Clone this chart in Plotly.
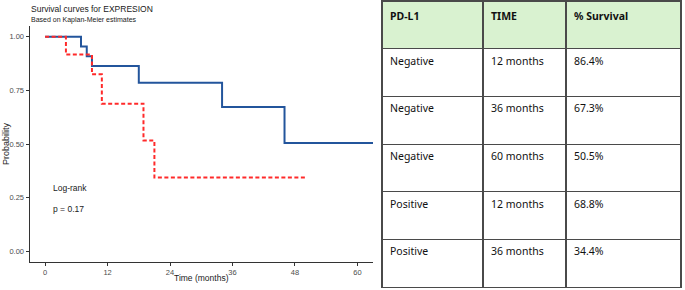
import plotly.graph_objects as go

# Kaplan-Meier curves
neg_time = [0, 6.9, 8.0, 9.0, 18.0, 34.0, 46.0, 64.0]
neg_surv = [1.0, 0.955, 0.909, 0.864, 0.786, 0.673, 0.505, 0.505]
pos_time = [0, 4.0, 9.0, 10.9, 18.9, 21.0, 50.0]
pos_surv = [1.0, 0.917, 0.825, 0.688, 0.516, 0.344, 0.344]

x_ticks = [0, 12, 24, 36, 48, 60]
y_ticks = [0.0, 0.25, 0.5, 0.75, 1.0]
y_tick_labels = ["0.00", "0.25", "0.50", "0.75", "1.00"]

# Table
tbl_header = ["PD-L1", "TIME", "% Survival"]
tbl_pdl1 = ["Negative", "Negative", "Negative", "Positive", "Positive"]
tbl_time = ["12 months", "36 months", "60 months", "12 months", "36 months"]
tbl_surv = ["86.4%", "67.3%", "50.5%", "68.8%", "34.4%"]

W, H = 685, 290
fig = go.Figure()

fig.add_trace(go.Scatter(x=neg_time, y=neg_surv, mode="lines", line_shape="hv",
                         line=dict(color="#23559c", width=2), showlegend=False))
fig.add_trace(go.Scatter(x=pos_time, y=pos_surv, mode="lines", line_shape="hv",
                         line=dict(color="#ff2a2a", width=2, dash="4px,2.5px"), showlegend=False))

fig.add_trace(go.Table(
    domain=dict(x=[382/W, 681/W], y=[1 - 288/H, 1 - 1/H]),
    columnwidth=[101, 83, 115],
    header=dict(values=["<b>%s</b>" % h for h in tbl_header], height=47.7,
                fill_color="#d9f2d0", line=dict(color="#4a4a4a", width=1.2),
                align="left", font=dict(family="Noto Sans", size=10.5, color="#111111")),
    cells=dict(values=[tbl_pdl1, tbl_time, tbl_surv], height=47.7,
               fill_color="white", line=dict(color="#4a4a4a", width=1.2),
               align="left", font=dict(family="Noto Sans", size=10.5, color="#111111")),
))

axis_font = dict(family="Liberation Sans", size=7.5, color="#4d4d4d")
fig.update_layout(
    width=W, height=H, margin=dict(l=0, r=0, t=0, b=0, autoexpand=False),
    paper_bgcolor="white", plot_bgcolor="white",
    font=dict(family="Liberation Sans"),
    xaxis=dict(domain=[29.5/W, 373/W], range=[-3, 63], tickvals=x_ticks,
               showgrid=False, zeroline=False, showline=True, linecolor="#333333",
               linewidth=1, ticks="outside", ticklen=3, tickcolor="#333333",
               tickfont=axis_font, automargin=False),
    yaxis=dict(domain=[1 - 262/H, 1 - 26/H], range=[-0.05, 1.05], tickvals=y_ticks,
               ticktext=y_tick_labels, showgrid=False, zeroline=False, showline=True,
               linecolor="#333333", linewidth=1, ticks="outside", ticklen=3,
               tickcolor="#333333", tickfont=axis_font, automargin=False),
)

def ann(text, x, y, size, color="#1a1a1a", xanchor="left", angle=0):
    fig.add_annotation(text=text, x=x/W, y=1 - y/H, xref="paper", yref="paper",
                       xanchor=xanchor, yanchor="middle", showarrow=False, textangle=angle,
                       font=dict(family="Liberation Sans", size=size, color=color))

ann("Survival curves for EXPRESION", 29, 9, 8.5)
ann("Based on Kaplan-Meier estimates", 29, 20, 7)
ann("Probability", 6, 144, 9, xanchor="center", angle=-90)
ann("Time (months)", 201, 278, 8.5, xanchor="center")
ann("Log-rank", 51, 188, 8.5)
ann("p = 0.17", 51, 209, 8.5)

fig.write_html("out.html", config={"displayModeBar": False},
               post_script="document.body.style.margin='0';document.body.style.overflow='hidden';")
